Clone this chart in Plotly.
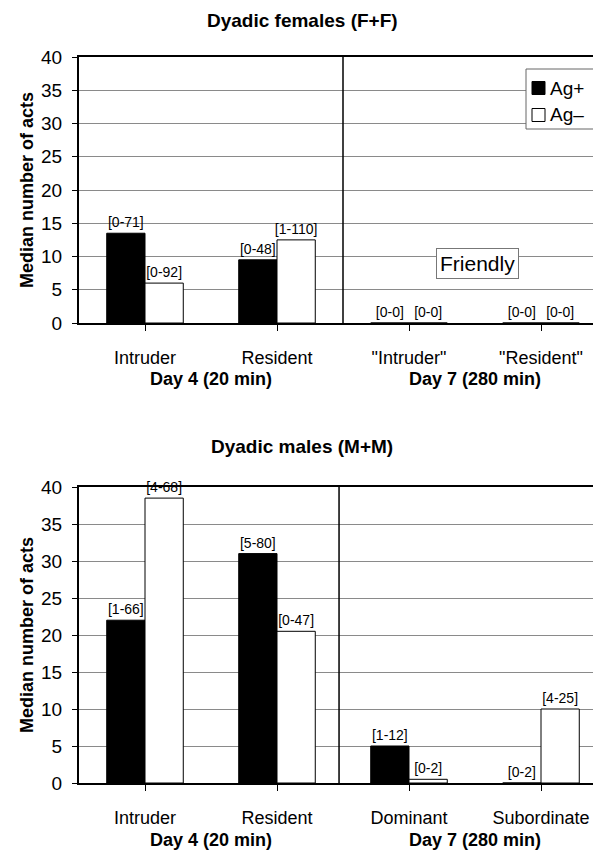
import plotly.graph_objects as go

# ---- data ----
cats_f = ["Intruder", "Resident", "\"Intruder\"", "\"Resident\""]
cats_m = ["Intruder", "Resident", "Dominant", "Subordinate"]
groups = ["Day 4 (20 min)", "Day 7 (280 min)"]
f_agp = [13.5, 9.5, 0, 0]
f_agm = [6, 12.5, 0, 0]
f_agp_lbl = ["[0-71]", "[0-48]", "[0-0]", "[0-0]"]
f_agm_lbl = ["[0-92]", "[1-110]", "[0-0]", "[0-0]"]
m_agp = [22, 31, 5, 0]
m_agm = [38.5, 20.5, 0.5, 10]
m_agp_lbl = ["[1-66]", "[5-80]", "[1-12]", "[0-2]"]
m_agm_lbl = ["[4-68]", "[0-47]", "[0-2]", "[4-25]"]
series_names = ["Ag+", "Ag\u2013"]

FONT = "Liberation Sans, Arial, sans-serif"
OFF = 8               # page body margin
FW, FH = 601 - OFF, 859 - OFF
xpos = [0, 1, 2, 3]

def PX(p):
    return (p - OFF) / FW

def PY(p):
    return 1 - (p - OFF) / FH

AX_L = 79
CATW = 132.0

fig = go.Figure()

def add_panel(vals_p, vals_m, lbl_p, lbl_m, xa, ya):
    for vals, lbl, col, nm in ((vals_p, lbl_p, "black", series_names[0]),
                               (vals_m, lbl_m, "white", series_names[1])):
        fig.add_trace(go.Bar(x=xpos, y=vals, name=nm, xaxis=xa, yaxis=ya,
                             marker=dict(color=col, line=dict(color="black", width=1)),
                             text=lbl, textposition="outside", cliponaxis=False,
                             constraintext="none",
                             textfont=dict(size=14, color="black", family=FONT),
                             showlegend=False))

add_panel(f_agp, f_agm, f_agp_lbl, f_agm_lbl, "x", "y")
add_panel(m_agp, m_agm, m_agp_lbl, m_agm_lbl, "x2", "y2")

top_dom = [PY(323), PY(57)]
bot_dom = [PY(783), PY(487)]
xr = [-0.5, (601 - AX_L) / CATW - 0.5]

def xaxis_cfg(ticktext, anchor):
    return dict(domain=[PX(AX_L), 1], range=xr, tickmode="array", tickvals=xpos,
                ticktext=ticktext, showline=True, linecolor="black", linewidth=2,
                mirror=True, ticks="outside", ticklen=6, tickcolor="black",
                tickson="boundaries", showgrid=False, zeroline=False,
                ticklabelstandoff=11, automargin=False,
                tickfont=dict(size=18, family=FONT, color="black"), anchor=anchor)

def yaxis_cfg(dom, anchor):
    return dict(domain=dom, range=[0, 40], dtick=5, showline=True, linecolor="black",
                linewidth=2, ticks="outside", ticklen=5, tickcolor="black",
                showgrid=True, gridcolor="#8a8a8a", gridwidth=1, zeroline=False,
                automargin=False, ticklabelstandoff=6,
                tickfont=dict(size=19, family=FONT, color="black"), anchor=anchor)

fig.update_layout(
    width=FW, height=FH, margin=dict(l=0, r=0, t=0, b=0, autoexpand=False),
    paper_bgcolor="white", plot_bgcolor="white",
    barmode="group", bargap=0.42, bargroupgap=0,
    font=dict(family=FONT, color="black"),
    xaxis=xaxis_cfg(cats_f, "y"), yaxis=yaxis_cfg(top_dom, "x"),
    xaxis2=xaxis_cfg(cats_m, "y2"), yaxis2=yaxis_cfg(bot_dom, "x2"),
    showlegend=False,
)

# divider lines
for xa, ya, xd in (("x", "y", 1.5), ("x2", "y2", 1.47)):
    fig.add_shape(type="line", xref=xa, yref=ya, x0=xd, x1=xd, y0=0, y1=40,
                  line=dict(color="black", width=1.5))

# custom legend (box, swatches, labels)
fig.add_shape(type="rect", xref="paper", yref="paper", x0=PX(526), x1=PX(595),
              y0=PY(129), y1=PY(69), line=dict(color="#666", width=1),
              fillcolor="white", layer="above")
for i, (nm, col) in enumerate(zip(series_names, ["black", "white"])):
    cy = 88 + i * 27
    fig.add_shape(type="rect", xref="paper", yref="paper", x0=PX(532), x1=PX(545),
                  y0=PY(cy + 6.5), y1=PY(cy - 6.5), line=dict(color="black", width=1),
                  fillcolor=col, layer="above")
    fig.add_annotation(text=nm, xref="paper", yref="paper", x=PX(548), y=PY(cy),
                       xanchor="left", yanchor="middle", showarrow=False,
                       font=dict(size=19, family=FONT))

# titles
for t, yc in (("Dyadic females (F+F)", 20), ("Dyadic males (M+M)", 446)):
    fig.add_annotation(text="<b>" + t + "</b>", xref="paper", yref="paper",
                       x=PX(302), y=PY(yc), xanchor="center", yanchor="middle",
                       showarrow=False, font=dict(size=19, family=FONT))

# y titles
for yc in (190, 635):
    fig.add_annotation(text="<b>Median number of acts</b>", xref="paper", yref="paper",
                       x=PX(27), y=PY(yc), xanchor="center", yanchor="middle",
                       showarrow=False, textangle=-90,
                       font=dict(size=18, family=FONT))

# group labels
for xa, ypix in (("x", 379), ("x2", 840)):
    for gx, g in zip([0.5, 2.5], groups):
        fig.add_annotation(text="<b>" + g + "</b>", xref=xa, yref="paper",
                           x=gx, y=PY(ypix), xanchor="center", yanchor="middle",
                           showarrow=False, font=dict(size=18, family=FONT))

# Friendly box
fig.add_annotation(text="Friendly", xref="x", yref="y", x=2.52, y=9.0,
                   xanchor="center", yanchor="middle",
                   showarrow=False, bgcolor="white", bordercolor="#777",
                   borderwidth=1, borderpad=3, font=dict(size=21, family=FONT))

fig.write_html("out.html")
